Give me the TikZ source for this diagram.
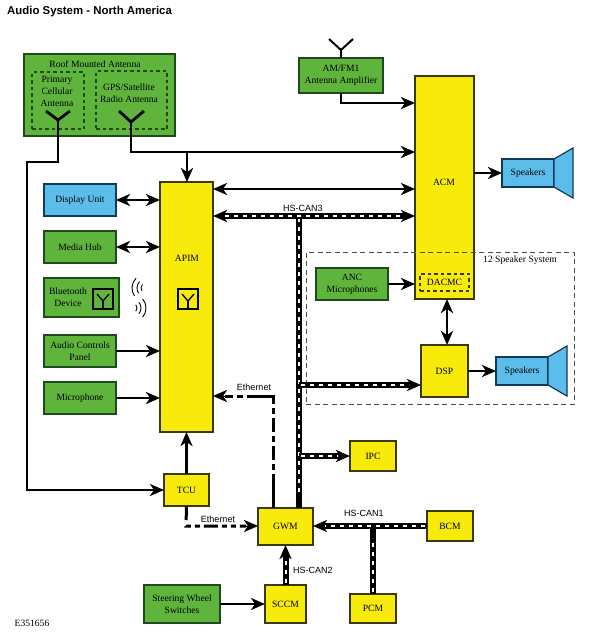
\documentclass[tikz,border=0pt]{standalone}
\usepackage{fontspec}
\setmainfont{Liberation Serif}
\newfontfamily\labelsans{Liberation Sans}
\usetikzlibrary{arrows.meta}
\definecolor{gfill}{HTML}{5FB53C}
\definecolor{yfill}{HTML}{F8EA0A}
\definecolor{bfill}{HTML}{5CBDEB}
\definecolor{edgeg}{HTML}{1E4A1E}
\definecolor{edgey}{HTML}{3A3810}
\definecolor{edgeb}{HTML}{123A5A}
\tikzset{
  tip/.tip={Stealth[length=14pt,width=12pt,inset=4pt]},
  basebox/.style={draw,line width=1.2pt,inner sep=0pt,outer sep=0pt,align=center,font=\fontsize{9.6}{12}\selectfont},
  gbox/.style={basebox,fill=gfill,draw=edgeg},
  ybox/.style={basebox,fill=yfill,draw=edgey},
  bbox/.style={basebox,fill=bfill,draw=edgeb},
  dashbox/.style={draw=edgeg,line width=1.1pt,dash pattern=on 3.5pt off 3pt,font=\fontsize{9.6}{12}\selectfont},
  framebox/.style={draw=black!70,line width=.9pt,dash pattern=on 5pt off 3.5pt},
  txt/.style={inner sep=0pt,align=center,font=\fontsize{9.6}{12}\selectfont},
  sanstxt/.style={inner sep=0pt,font=\labelsans\fontsize{9}{10}\selectfont},
  wire/.style={line width=2.7pt,black},
  arr/.style={wire,-tip},
  dblarr/.style={wire,tip-tip},
  canline/.style={line width=6pt,black,postaction={draw=white,-,line width=2pt,dash pattern=on 4pt off 5pt,shorten <=2pt,shorten >=12pt}},
  canarr/.style={canline,-tip},
  candbl/.style={line width=6pt,black,tip-tip,postaction={draw=white,-,line width=2pt,dash pattern=on 4pt off 5pt,shorten <=12pt,shorten >=12pt}},
  ethline/.style={line width=3pt,black},
  aerial/.style={line width=2.8pt,black},
  inner aerial/.style={line width=1.3pt,black},
  wave/.style={line width=.9pt,black},
}
\begin{document}
\begin{tikzpicture}[x=1pt,y=-1pt]
\useasboundingbox (0,0) rectangle (592,641);
\fill[white] (0,0) rectangle (592,641);

\node[anchor=west,inner sep=0pt,font=\labelsans\bfseries\fontsize{11.4}{13}\selectfont] (title) at (7,12) {Audio System - North America};

% boxes
\node[gbox,minimum width=151,minimum height=82] (roof) at (99.5,95) {};
\node[txt] (rooflabel) at (95,64) {Roof Mounted Antenna};
\node[dashbox,minimum width=52,minimum height=57,inner sep=0pt,outer sep=0pt] (primary) at (58,100.5) {};
\node[dashbox,minimum width=71,minimum height=58,inner sep=0pt,outer sep=0pt] (gps) at (131.5,100) {};
\node[txt] (primarylabel) at (57,91) {Primary\\Cellular\\Antenna};
\node[txt] (gpslabel) at (129,93) {GPS/Satellite\\Radio Antenna};

\node[gbox,minimum width=84,minimum height=35] (amfm) at (341,75.5) {AM/FM1\\Antenna Amplifier};
\node[ybox,minimum width=59,minimum height=223] (acm) at (444.5,187.5) {};
\node[txt] (acmlabel) at (444,182) {ACM};
\node[dashbox,draw=edgey,minimum width=49,minimum height=17,inner sep=0pt,outer sep=0pt] (dacmc) at (444.5,282.5) {DACMC};

\node[bbox,minimum width=72,minimum height=32] (display) at (80,200) {Display Unit};
\node[gbox,minimum width=72,minimum height=32] (media) at (80,247) {Media Hub};
\node[gbox,minimum width=75,minimum height=39] (bt) at (81.5,297.5) {};
\node[txt,anchor=center] (btlabel) at (68,297) {Bluetooth\\Device};
\node[gbox,minimum width=72,minimum height=32] (audio) at (80,351) {Audio Controls\\Panel};
\node[gbox,minimum width=72,minimum height=32] (mic) at (80,398) {Microphone};
\node[ybox,minimum width=53,minimum height=250] (apim) at (186.5,307) {};
\node[txt] (apimlabel) at (187,258) {APIM};
\node[draw=black,line width=1.1pt,minimum width=20,minimum height=20,inner sep=0pt,outer sep=0pt] (btant) at (103,299) {};
\node[draw=black,line width=1.1pt,minimum width=20,minimum height=20,inner sep=0pt,outer sep=0pt] (apimant) at (188,299) {};

\node[bbox,minimum width=52,minimum height=28] (spkA) at (528,173) {Speakers};
\node[bbox,minimum width=52,minimum height=28] (spkB) at (522,371) {Speakers};
\node[gbox,minimum width=72,minimum height=32] (anc) at (352,284) {ANC\\Microphones};
\node[ybox,minimum width=47,minimum height=52] (dsp) at (444.5,371) {DSP};
\node[ybox,minimum width=46,minimum height=30] (ipc) at (373,456) {IPC};
\node[ybox,minimum width=45,minimum height=32] (tcu) at (186.5,490) {TCU};
\node[ybox,minimum width=55,minimum height=37] (gwm) at (285.5,526.5) {GWM};
\node[ybox,minimum width=46,minimum height=30] (bcm) at (450,526) {BCM};
\node[ybox,minimum width=46,minimum height=29] (pcm) at (373,608.5) {PCM};
\node[ybox,minimum width=41,minimum height=38] (sccm) at (285.5,604) {SCCM};
\node[gbox,minimum width=76,minimum height=38] (steer) at (182,604) {Steering Wheel\\Switches};

% speaker cones
\draw[fill=bfill,draw=edgeb,line width=1.2pt] (spkA.north east) -- (573,148) -- (573,198) -- (spkA.south east) -- cycle;
\draw[fill=bfill,draw=edgeb,line width=1.2pt] (spkB.north east) -- (567,346) -- (567,396) -- (spkB.south east) -- cycle;

% 12 speaker system frame
\node[framebox,minimum width=268,minimum height=152,inner sep=0pt,outer sep=0pt] (twelve) at (440,328) {};
\node[txt] (twelvelabel) at (520,260) {12 Speaker System};

% aerials
\coordinate (pantfoot) at (58,120);
\coordinate (gantfoot) at (131,122);
\coordinate (aantfoot) at (341,50);
\draw[aerial] (46,111) -- (pantfoot) -- (70,111);
\draw[aerial] (119,111) -- (gantfoot) -- (144,111);
\draw[line width=2pt] (329,39) -- (aantfoot) -- (353,39);
\draw[line width=2pt] (aantfoot) -- (amfm.north);
\foreach \a in {btant,apimant}{
  \draw[inner aerial] ([xshift=-6pt,yshift=-5pt]\a.north) -- ([yshift=-2pt]\a.center) -- ([xshift=6pt,yshift=-5pt]\a.north);
  \draw[inner aerial] ([yshift=-2pt]\a.center) -- (\a.south);
}

% bluetooth waves
\foreach \r in {5,9,14}{
  \draw[wave] (146,288) ++(145:\r) arc[start angle=145,end angle=225,radius=\r];
  \draw[wave] (132,308) ++(-40:\r) arc[start angle=-40,end angle=40,radius=\r];
}

% connectors
\coordinate (pk1) at (58,162);
\coordinate (pk2) at (27,162);
\coordinate (pk3) at (27,490);
\draw[wire,-tip] (pantfoot) -- (pk1) -- (pk2) -- (pk3) -- (tcu.west);
\coordinate (gk) at (131,152);
\coordinate (gb) at (187,152);
\draw[arr] (gantfoot) -- (gk) -- (gk -| acm.west);
\draw[arr] (gb) -- (gb |- apim.north);
\coordinate (ak) at (341,103);
\draw[arr] (amfm.south) -- (ak) -- (ak -| acm.west);
\coordinate (d1) at (apim.east |- 0,189);
\draw[dblarr] (d1) -- (d1 -| acm.west);
\draw[arr] (acm.east |- spkA.west) -- (spkA.west);
\draw[arr] (anc.east) -- (anc.east -| acm.west);
\draw[dblarr] (dsp.north -| 447,0) -- (447,0 |- acm.south);
\draw[arr] (dsp.east) -- (spkB.west);
\draw[dblarr] (display.east) -- (display.east -| apim.west);
\draw[dblarr] (media.east) -- (media.east -| apim.west);
\draw[arr] (audio.east) -- (audio.east -| apim.west);
\draw[arr] (mic.east) -- (mic.east -| apim.west);
\draw[arr] (tcu.north) -- (tcu.north |- apim.south);
\draw[arr] (steer.east) -- (sccm.west);

% HS-CAN buses
\coordinate (can3) at (299,216);
\coordinate (canD) at (299,385);
\coordinate (canI) at (299,456);
\draw[canline] (can3) -- (can3 |- gwm.north);
\draw[candbl] (can3 -| apim.east) -- (can3 -| acm.west);
\draw[canarr] (canD) -- (canD -| dsp.west);
\draw[canarr] (canI) -- (ipc.west);
\coordinate (can1) at (373,526);
\draw[canline] (pcm.north) -- (can1);
\draw[canarr] (bcm.west) -- (gwm.east |- bcm.west);
\draw[canarr] (sccm.north) -- (sccm.north |- gwm.south);

% Ethernet
\coordinate (ek) at (273,396);
\draw[ethline,dash pattern=on 34pt off 4pt on 6pt off 4pt on 14pt off 4pt on 6pt off 4pt on 14pt off 4pt on 6pt off 4pt] (gwm.north -| ek) -- (ek) -- ([xshift=12pt]ek -| apim.east);
\draw[arr,line width=.1pt] ([xshift=12pt]ek -| apim.east) -- (ek -| apim.east);
\coordinate (ew) at (186,526);
\draw[ethline,dash pattern=on 14pt off 6pt on 5pt off 4pt on 5pt off 4pt on 14pt off 4pt on 5pt off 4pt on 5pt off 4pt] (tcu.south) -- (ew) -- ([xshift=-12pt]ew -| gwm.west);
\draw[arr,line width=.1pt] ([xshift=-12pt]ew -| gwm.west) -- (ew -| gwm.west);

% labels
\node[sanstxt] (l1) at (303,208) {HS-CAN3};
\node[sanstxt] (l2) at (254,387) {Ethernet};
\node[sanstxt] (l3) at (218,519) {Ethernet};
\node[sanstxt] (l4) at (364,513) {HS-CAN1};
\node[sanstxt] (l5) at (313,570) {HS-CAN2};
\node[txt] (code) at (32,623) {E351656};
\end{tikzpicture}
\end{document}
